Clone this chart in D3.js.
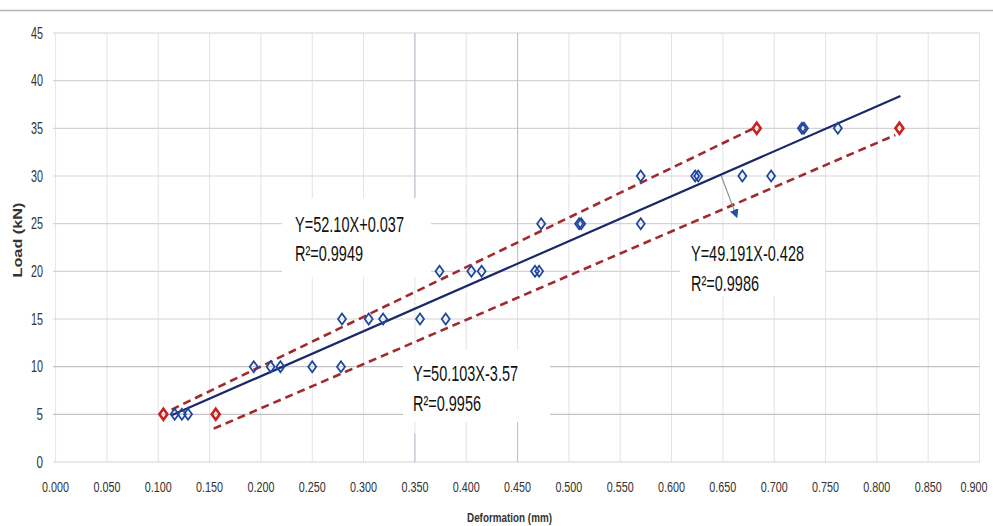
<!DOCTYPE html>
<html>
<head>
<meta charset="utf-8">
<script src="https://cdn.jsdelivr.net/npm/d3@7"></script>
<style>
  html, body { margin: 0; padding: 0; background: #fff; }
  svg { display: block; }
</style>
</head>
<body>
<svg id="chart" width="993" height="526"></svg>
<script>
// ---- data ----
const xTicks = [0, 0.05, 0.1, 0.15, 0.2, 0.25, 0.3, 0.35, 0.4, 0.45, 0.5, 0.55, 0.6, 0.65, 0.7, 0.75, 0.8, 0.85, 0.9];
const yTicks = [0, 5, 10, 15, 20, 25, 30, 35, 40, 45];

const blueDeformation = [0.116, 0.123, 0.129,
  0.193, 0.2095, 0.219, 0.250, 0.278,
  0.279, 0.305, 0.319, 0.355, 0.380,
  0.374, 0.405, 0.415, 0.467, 0.471,
  0.473, 0.510, 0.512, 0.570,
  0.570, 0.623, 0.626, 0.669, 0.697,
  0.727, 0.729, 0.762];
const blueLoad = [5, 5, 5,
  10, 10, 10, 10, 10,
  15, 15, 15, 15, 15,
  20, 20, 20, 20, 20,
  25, 25, 25, 25,
  30, 30, 30, 30, 30,
  35, 35, 35];

const redDeformation = [0.105, 0.156, 0.683, 0.822];
const redLoad = [5, 5, 35, 35];

const fitX = [0.113, 0.823];
const fitY = [4.9, 38.4];
const upperX = [0.113, 0.680];
const upperY = [5.5, 35.0];
const lowerX = [0.154, 0.818];
const lowerY = [3.5, 34.3];
const arrowX = [0.6485, 0.6625];
const arrowY = [30.0, 26.0];

const equations = ["Y=52.10X+0.037", "Y=49.191X-0.428", "Y=50.103X-3.57"];
const rSquared = ["R²=0.9949", "R²=0.9986", "R²=0.9956"];

const xTitle = "Deformation (mm)";
const yTitle = "Load (kN)";

// ---- drawing ----
const svg = d3.select("#chart");
const W = 993, H = 526;
const x = d3.scaleLinear().domain([0, 0.9]).range([55.6, 979.5]);
const y = d3.scaleLinear().domain([0, 45]).range([462, 33]);
const FONT = "'Liberation Sans Narrow', 'Liberation Sans', Arial, sans-serif";

svg.append("rect").attr("width", W).attr("height", H).attr("fill", "#fff");

// top border line
svg.append("line").attr("x1", 0).attr("x2", W).attr("y1", 10.5).attr("y2", 10.5)
  .attr("stroke", "#b4b4b4").attr("stroke-width", 1.5);

// gridlines
const grid = svg.append("g");
grid.selectAll("line.v").data(xTicks).join("line")
  .attr("class", "v")
  .attr("x1", d => x(d)).attr("x2", d => x(d))
  .attr("y1", y(45)).attr("y2", y(0))
  .attr("stroke", "#e3e3e8").attr("stroke-width", 1);
grid.selectAll("line.h").data(yTicks).join("line")
  .attr("class", "h")
  .attr("x1", x(0) - 2.5).attr("x2", x(0.9))
  .attr("y1", d => y(d)).attr("y2", d => y(d))
  .attr("stroke", d => (d === 5 || d === 10) ? "#c2c2c2" : "#d4d4d4").attr("stroke-width", 1.2);

// darker segments of two vertical grid lines (as in reference)
const darkSegs = [[0.35, 45, 27.7], [0.35, 3.0, 0], [0.45, 45, 20.3], [0.45, 4.6, 0]];
grid.selectAll("line.d").data(darkSegs).join("line")
  .attr("x1", d => x(d[0])).attr("x2", d => x(d[0]))
  .attr("y1", d => y(d[1])).attr("y2", d => y(d[2]))
  .attr("stroke", "#bcc0d0").attr("stroke-width", 1.1);

// white label boxes
const boxes = [[282, 198, 149, 79], [680, 240, 145, 56], [403, 350, 147, 72]];
svg.append("g").selectAll("rect").data(boxes).join("rect")
  .attr("x", d => d[0]).attr("y", d => d[1]).attr("width", d => d[2]).attr("height", d => d[3])
  .attr("fill", "#fff");

// lines
const line = d3.line().x(d => x(d[0])).y(d => y(d[1]));
const pts = (xs, ys) => xs.map((v, i) => [v, ys[i]]);

svg.append("path").datum(pts(upperX, upperY)).attr("d", line)
  .attr("fill", "none").attr("stroke", "#a12a2c").attr("stroke-width", 2.6).attr("stroke-dasharray", "8,5");
svg.append("path").datum(pts(lowerX, lowerY)).attr("d", line)
  .attr("fill", "none").attr("stroke", "#a12a2c").attr("stroke-width", 2.6).attr("stroke-dasharray", "8,5");
svg.append("path").datum(pts(fitX, fitY)).attr("d", line)
  .attr("fill", "none").attr("stroke", "#18286a").attr("stroke-width", 2.2);

// arrow
const defs = svg.append("defs");
defs.append("marker").attr("id", "arr").attr("viewBox", "0 0 10 10")
  .attr("refX", 5).attr("refY", 5).attr("markerWidth", 9).attr("markerHeight", 9)
  .attr("markerUnits", "userSpaceOnUse").attr("orient", "auto")
  .append("path").attr("d", "M0,0 L10,5 L0,10 Z").attr("fill", "#2152a3");
svg.append("path").datum(pts(arrowX, arrowY)).attr("d", line)
  .attr("fill", "none").attr("stroke", "#8a8a8a").attr("stroke-width", 1.1)
  .attr("marker-end", "url(#arr)");

// diamond markers
const diamond = "M0,-5.5 L4,0 L0,5.5 L-4,0 Z";
svg.append("g").selectAll("path").data(pts(blueDeformation, blueLoad)).join("path")
  .attr("d", diamond)
  .attr("transform", d => `translate(${x(d[0])},${y(d[1])})`)
  .attr("fill", "none").attr("stroke", "#1f47a0").attr("stroke-width", 1.8);
svg.append("g").selectAll("path").data(pts(redDeformation, redLoad)).join("path")
  .attr("d", diamond)
  .attr("transform", d => `translate(${x(d[0])},${y(d[1])})`)
  .attr("fill", "none").attr("stroke", "#cc1f1f").attr("stroke-width", 2.6);

// tick labels
svg.append("g").selectAll("text").data(xTicks).join("text")
  .attr("x", d => Math.min(x(d), 974)).attr("y", 491.5)
  .attr("text-anchor", "middle")
  .attr("font-family", FONT).attr("font-size", 14).attr("fill", "#333")
  .attr("textLength", 27).attr("lengthAdjust", "spacingAndGlyphs")
  .text(d => d3.format(".3f")(d));
svg.append("g").selectAll("text").data(yTicks).join("text")
  .attr("x", 43).attr("y", d => y(d) + 5.8)
  .attr("text-anchor", "end")
  .attr("font-family", FONT).attr("font-size", 16).attr("fill", "#333")
  .attr("textLength", d => d < 10 ? 6.5 : 12).attr("lengthAdjust", "spacingAndGlyphs")
  .text(d => d);

// axis titles
svg.append("text").attr("x", 509.5).attr("y", 522)
  .attr("text-anchor", "middle").attr("font-family", FONT).attr("font-weight", "bold")
  .attr("font-size", 13).attr("fill", "#333")
  .attr("textLength", 85).attr("lengthAdjust", "spacingAndGlyphs")
  .text(xTitle);
svg.append("text").attr("transform", "translate(22,240) rotate(-90)")
  .attr("text-anchor", "middle").attr("font-family", FONT).attr("font-weight", "bold")
  .attr("font-size", 12).attr("fill", "#333")
  .attr("textLength", 75).attr("lengthAdjust", "spacingAndGlyphs")
  .text(yTitle);

// equation labels
const labelPos = [[295, 231.5, 109], [691, 261, 113], [413, 381, 105]];
const labels = svg.append("g").attr("font-family", FONT).attr("font-size", 22).attr("fill", "#111");
equations.forEach((eq, i) => {
  const [lx, ly, tl] = labelPos[i];
  labels.append("text").attr("x", lx).attr("y", ly)
    .attr("textLength", tl).attr("lengthAdjust", "spacingAndGlyphs").text(eq);
  labels.append("text").attr("x", lx).attr("y", ly + 29.5)
    .attr("textLength", 68).attr("lengthAdjust", "spacingAndGlyphs").text(rSquared[i]);
});
</script>
</body>
</html>
